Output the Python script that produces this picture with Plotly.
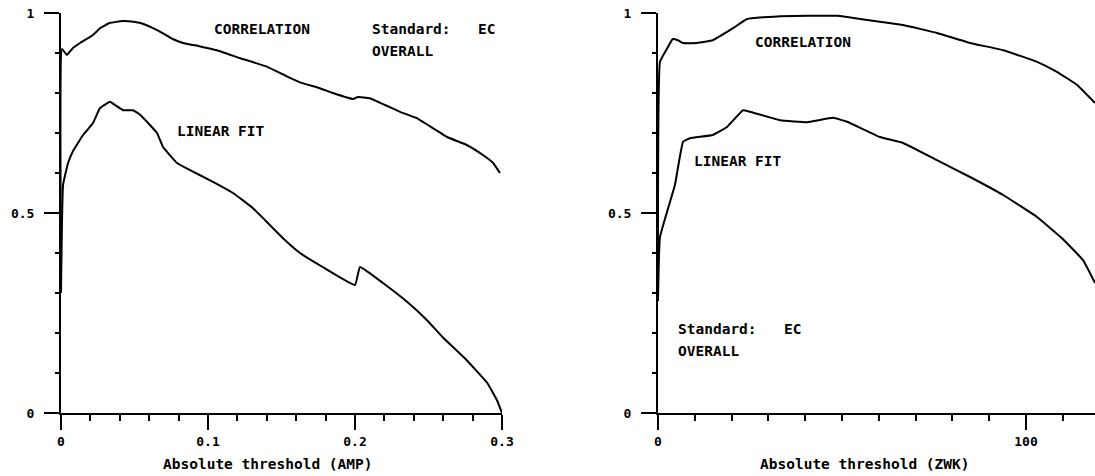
import plotly.graph_objects as go

# Left panel: threshold on AMP scale
amp_corr_x = [0, 0.0007, 0.004, 0.008, 0.013, 0.0218, 0.0265, 0.033, 0.042, 0.048, 0.054, 0.0626,
              0.070, 0.076, 0.083, 0.094, 0.106, 0.122, 0.140, 0.154, 0.163, 0.176, 0.185, 0.1986,
              0.202, 0.210, 0.2306, 0.242, 0.2626, 0.276, 0.287, 0.294, 0.2986]
amp_corr_y = [0.33, 0.91, 0.895, 0.912, 0.925, 0.945, 0.962, 0.975, 0.98, 0.979, 0.975, 0.962,
              0.948, 0.935, 0.925, 0.917, 0.907, 0.887, 0.866, 0.841, 0.826, 0.812, 0.80, 0.785,
              0.79, 0.787, 0.753, 0.737, 0.69, 0.67, 0.645, 0.625, 0.60]

amp_lin_x = [0, 0.0014, 0.0048, 0.0082, 0.015, 0.0218, 0.0265, 0.0333, 0.0367, 0.0422, 0.049,
             0.054, 0.0653, 0.0694, 0.0789, 0.0878, 0.1034, 0.117, 0.1306, 0.151, 0.1626,
             0.178, 0.200, 0.2034, 0.219, 0.2354, 0.249, 0.26, 0.276, 0.29, 0.2966, 0.300]
amp_lin_y = [0.30, 0.57, 0.625, 0.655, 0.695, 0.725, 0.762, 0.778, 0.77, 0.757, 0.757,
             0.745, 0.70, 0.665, 0.625, 0.607, 0.578, 0.55, 0.512, 0.437, 0.40,
             0.365, 0.32, 0.365, 0.325, 0.278, 0.232, 0.188, 0.132, 0.075, 0.032, 0.0]

# Right panel: threshold on ZWK scale
zwk_corr_x = [0, 0.54, 2.4, 4.0, 5.4, 6.8, 10.6, 14.9, 20.4, 24.2, 33.2, 48.6, 51.4, 60.3,
              66.6, 75.8, 84.8, 93.8, 103, 108.4, 113.9, 118.75]
zwk_corr_y = [0.30, 0.878, 0.910, 0.935, 0.932, 0.925, 0.925, 0.932, 0.962, 0.985, 0.992,
              0.993, 0.99, 0.978, 0.97, 0.95, 0.925, 0.907, 0.878, 0.853, 0.82, 0.775]

zwk_lin_x = [0, 0.54, 4.6, 6.8, 8.7, 14.9, 18.75, 23.1, 25.0, 33.2, 40.5, 47.6, 51.4, 60.3,
             66.6, 75.8, 84.8, 93.8, 103, 110, 115.5, 118.75]
zwk_lin_y = [0.28, 0.44, 0.57, 0.678, 0.687, 0.695, 0.715, 0.757, 0.753, 0.732, 0.727, 0.738,
             0.728, 0.69, 0.675, 0.632, 0.59, 0.545, 0.49, 0.435, 0.382, 0.325]

amp_ticks = [0, 0.1, 0.2, 0.3]
amp_ticktext = ["0", "0.1", "0.2", "0.3"]
zwk_ticks = [0, 100]
zwk_ticktext = ["0", "100"]
y_ticks = [0, 0.5, 1]
y_ticktext = ["0", "0.5", "1"]

FONT = "DejaVu Sans Mono"
W, H = 1095, 476
line = dict(color="black", width=2, shape="spline", smoothing=0.3)

fig = go.Figure()
fig.add_trace(go.Scatter(x=amp_corr_x, y=amp_corr_y, mode="lines", line=line, xaxis="x", yaxis="y"))
fig.add_trace(go.Scatter(x=amp_lin_x, y=amp_lin_y, mode="lines", line=line, xaxis="x", yaxis="y"))
fig.add_trace(go.Scatter(x=zwk_corr_x, y=zwk_corr_y, mode="lines", line=line, xaxis="x2", yaxis="y2"))
fig.add_trace(go.Scatter(x=zwk_lin_x, y=zwk_lin_y, mode="lines", line=line, xaxis="x2", yaxis="y2"))

tickfont = dict(family=FONT, size=13, color="black", weight="bold")


def xaxis(domain, rng, tickvals, ticktext, minor_dtick, anchor):
    return dict(domain=domain, range=rng, showgrid=False, zeroline=False,
                showline=True, linecolor="black", linewidth=2,
                ticks="outside", ticklen=15, tickwidth=1.5, tickcolor="black",
                tickvals=tickvals, ticktext=ticktext, tickfont=tickfont,
                ticklabelstandoff=0,
                minor=dict(ticks="outside", ticklen=6, tickwidth=1.5, tickcolor="black",
                           dtick=minor_dtick, tick0=0, showgrid=False),
                anchor=anchor, automargin=False, fixedrange=True)


ydom = [(H - 413) / H, (H - 13) / H]


def yaxis(anchor):
    return dict(domain=ydom, range=[0, 1], showgrid=False, zeroline=False,
                showline=True, linecolor="black", linewidth=2,
                ticks="outside", ticklen=15, tickwidth=1.5, tickcolor="black",
                tickvals=y_ticks, ticktext=y_ticktext, tickfont=tickfont,
                ticklabelstandoff=7,
                minor=dict(ticks="outside", ticklen=4, tickwidth=1.5, tickcolor="black",
                           dtick=0.1, tick0=0, showgrid=False),
                anchor=anchor, automargin=False, fixedrange=True)


annfont = dict(family=FONT, size=14.5, color="black", weight="bold")


def label(text, x, y, xref, yref):
    return dict(text=text, x=x, y=y, xref=xref, yref=yref, showarrow=False,
                xanchor="left", yanchor="middle", font=annfont)


annotations = [
    label("CORRELATION", 0.1027, 0.96, "x", "y"),
    label("LINEAR FIT", 0.0776, 0.705, "x", "y"),
    label("Standard:", 0.210, 0.96, "x", "y"),
    label("EC", 0.2823, 0.96, "x", "y"),
    label("OVERALL", 0.210, 0.905, "x", "y"),
    label("CORRELATION", 25.8, 0.9275, "x2", "y2"),
    label("LINEAR FIT", 9.24, 0.63, "x2", "y2"),
    label("Standard:", 4.9, 0.21, "x2", "y2"),
    label("EC", 33.7, 0.21, "x2", "y2"),
    label("OVERALL", 4.9, 0.155, "x2", "y2"),
    dict(text="Absolute threshold (AMP)", x=268 / W, y=(H - 464) / H, xref="paper", yref="paper",
         showarrow=False, xanchor="center", yanchor="middle", font=annfont),
    dict(text="Absolute threshold (ZWK)", x=865 / W, y=(H - 464) / H, xref="paper", yref="paper",
         showarrow=False, xanchor="center", yanchor="middle", font=annfont),
]

fig.update_layout(
    width=W, height=H,
    margin=dict(l=0, r=0, t=0, b=0, pad=0),
    paper_bgcolor="white", plot_bgcolor="white",
    showlegend=False,
    xaxis=xaxis([61 / W, 502 / W], [0, 0.3], amp_ticks, amp_ticktext, 0.02, "y"),
    yaxis=yaxis("x"),
    xaxis2=xaxis([658 / W, 1.0], [0, 118.75], zwk_ticks, zwk_ticktext, 10, "y2"),
    yaxis2=yaxis("x2"),
    annotations=annotations,
)

fig.write_html("out.html", config={"displayModeBar": False})
